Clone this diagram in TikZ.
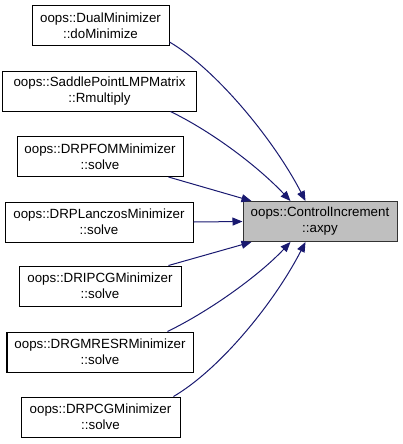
\documentclass[tikz,border=0pt]{standalone}
\usepackage{fontspec}
\setmainfont{Liberation Sans}
\usetikzlibrary{arrows.meta,calc}
\definecolor{edgeblue}{HTML}{191970}
\definecolor{hl}{HTML}{BFBFBF}
\tikzset{
  fn/.style={draw=black, line width=0.75pt, fill=white, align=center, inner sep=0pt,
    font=\fontsize{10pt}{12pt}\selectfont, minimum height=40*0.75pt},
  cur/.style={fn, fill=hl, draw=black!80},
  call/.style={draw=edgeblue, line width=0.75pt, -{Triangle[length=7.5pt,width=6pt]}}
}
\begin{document}
\begin{tikzpicture}[x=0.75pt,y=-0.75pt]
\useasboundingbox (0,0) rectangle (403,444);
\node[fn, minimum width=137*0.75pt] (n1) at (100.5,25.5) {oops::DualMinimizer\\::doMinimize};
\node[fn, minimum width=193*0.75pt] (n2) at (99.5,91) {oops::SaddlePointLMPMatrix\\::Rmultiply};
\node[fn, minimum width=166*0.75pt] (n3) at (100,156.5) {oops::DRPFOMMinimizer\\::solve};
\node[fn, minimum width=188*0.75pt] (n4) at (99,222) {oops::DRPLanczosMinimizer\\::solve};
\node[fn, minimum width=162*0.75pt] (n5) at (100,286) {oops::DRIPCGMinimizer\\::solve};
\node[fn, minimum width=186*0.75pt] (n6) at (100,352) {oops::DRGMRESRMinimizer\\::solve};
\node[fn, minimum width=159*0.75pt] (n7) at (100.5,417) {oops::DRPCGMinimizer\\::solve};
\node[cur, minimum width=154*0.75pt] (t) at (320,221.5) {oops::ControlIncrement\\::axpy};

\draw[call] ($(n1.south east)+(0,-4)$) .. controls +(46,27) and +(-32,-62) .. ($(t.north west)+(63,0)$);
\draw[call] ($(n2.south east)+(-26,0)$) .. controls +(45,22) and +(-30,-32) .. ($(t.north west)+(48,0)$);
\draw[call] ($(n3.south east)+(-15,0)$) -- ($(t.north west)+(9,0)$);
\draw[call] (n4.east) -- (t.west);
\draw[call] ($(n5.north east)+(-13,0)$) -- ($(t.south west)+(9,0)$);
\draw[call] ($(n6.north east)+(-26,0)$) .. controls +(45,-22) and +(-30,32) .. ($(t.south west)+(48,0)$);
\draw[call] ($(n7.north east)+(-7,0)$) .. controls +(46,-27) and +(-32,62) .. ($(t.south west)+(63,0)$);
\end{tikzpicture}
\end{document}
